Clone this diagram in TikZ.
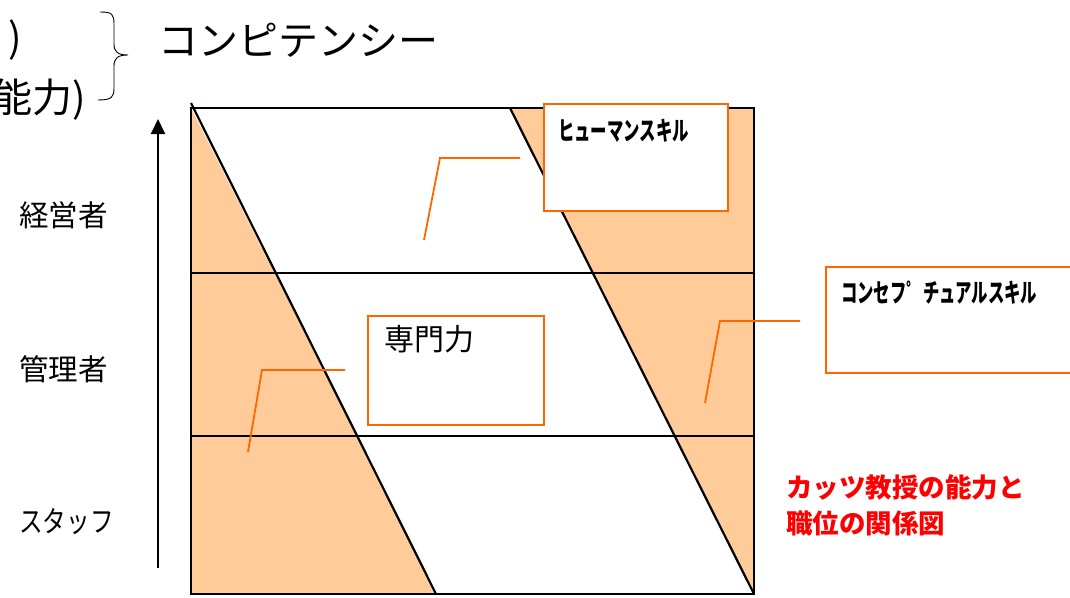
\documentclass[tikz,border=0pt]{standalone}
\usepackage{fontspec}
\usepackage{graphicx}
\usetikzlibrary{arrows.meta}
\setmainfont{Noto Sans CJK JP}
\definecolor{peach}{HTML}{FFCC99}
\definecolor{calloutc}{HTML}{FF6600}
\definecolor{redtxt}{HTML}{FF0000}
\tikzset{
  band/.style={draw=black, line width=2.2pt},
  callbox/.style={draw=calloutc, fill=white, line width=2pt, inner sep=0pt, anchor=north west},
  callline/.style={draw=calloutc, line width=1.8pt},
  rowlabel/.style={font=\fontsize{29.5}{32}\selectfont, anchor=west, inner sep=0pt},
  skilltxt/.style={font=\fontsize{26}{28}\selectfont\bfseries, anchor=west, inner sep=0pt},
}
\begin{document}
\begin{tikzpicture}[x=1pt,y=-1pt]
\useasboundingbox (0,0) rectangle (1070,597);
% fills
\fill[peach] (191,108) -- (191,594) -- (436,594) -- cycle;
\fill[peach] (510,108) -- (754,108) -- (754,594) -- cycle;
% frame
\draw[band] (191,108) rectangle (754,594);
\draw[band] (191,273) -- (754,273);
\draw[band] (191,436) -- (754,436);
\draw[band] (191,103) -- (436,594);
\draw[band] (510,108) -- (754,594);
% axis arrow
\coordinate (ab) at (158,568);
\coordinate (at) at (158,119);
\draw[line width=2pt, -{Triangle[length=15pt,width=14pt]}] (ab) -- (at);
% row labels
\node[rowlabel] (l1) at (19,215) {経営者};
\node[rowlabel] (l2) at (19,369) {管理者};
\node[rowlabel] (l3) at (19,522) {\scalebox{0.8}[1]{スタッフ}};
% top texts
\node[font=\fontsize{40}{44}\selectfont, anchor=east, inner sep=0pt] (t1) at (22,40) {)};
\node[font=\fontsize{40}{44}\selectfont, anchor=east, inner sep=0pt] (t2) at (86,100) {能力)};
\draw[line width=0.9pt] (100,12) .. controls (112,12) and (114,14) .. (114,24) -- (114,44) .. controls (114,52) and (118,55) .. (128,55) .. controls (118,55) and (114,58) .. (114,66) -- (114,88) .. controls (114,97) and (112,100) .. (98,100);
\node[font=\fontsize{40}{44}\selectfont, anchor=west, inner sep=0pt] (comp) at (158,40) {コンピテンシー};
% callout boxes
\node[callbox, minimum width=184pt, minimum height=107pt] (hbox) at (543,103) {};
\node[skilltxt] (htxt) at (558,131) {\scalebox{0.63}[1]{ヒューマンスキル}};
\node[callbox, minimum width=176pt, minimum height=109pt] (sbox) at (367,315) {};
\node[font=\fontsize{30}{32}\selectfont, anchor=west, inner sep=0pt] (stxt) at (384,339) {専門力};
\node[callbox, minimum width=260pt, minimum height=106pt] (cbox) at (825,266) {};
\node[skilltxt] (ctxt) at (841,293) {\scalebox{0.63}[1]{コンセフ゜チュアルスキル}};
% callout lines
\coordinate (h1) at (520,158); \coordinate (h2) at (440,158); \coordinate (h3) at (424,240);
\draw[callline] (h1) -- (h2) -- (h3);
\coordinate (s1) at (345,370); \coordinate (s2) at (262,370); \coordinate (s3) at (248,452);
\draw[callline] (s1) -- (s2) -- (s3);
\coordinate (c1) at (800,321); \coordinate (c2) at (720,321); \coordinate (c3) at (705,403);
\draw[callline] (c1) -- (c2) -- (c3);
% red caption
\node[font=\fontsize{26.5}{36}\selectfont\bfseries, text=redtxt, align=left, anchor=north west, inner sep=0pt] (cap) at (786,474) {カッツ教授の能力と\\職位の関係図};
\end{tikzpicture}
\end{document}
